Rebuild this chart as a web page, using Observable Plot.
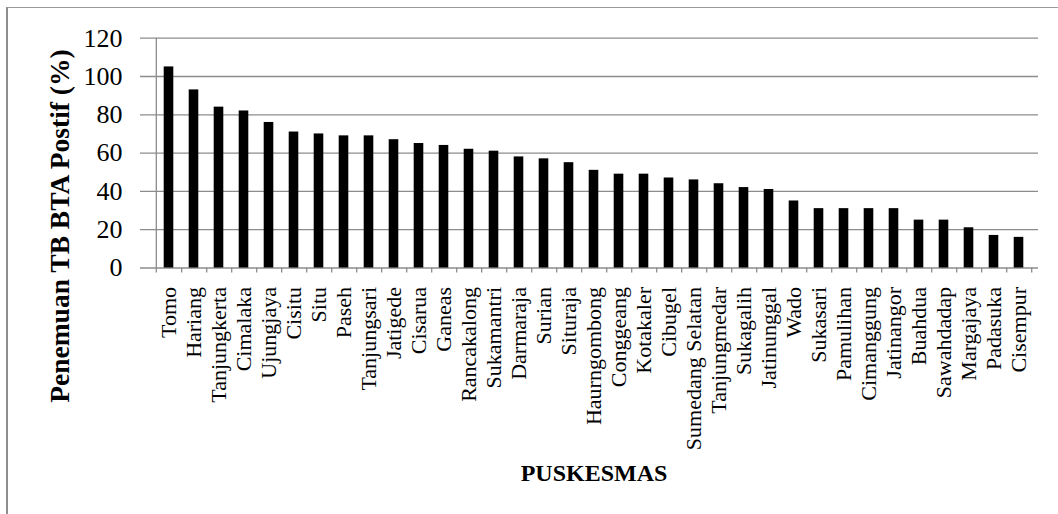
<!DOCTYPE html>
<html>
<head>
<meta charset="utf-8">
<script src="https://cdn.jsdelivr.net/npm/d3@7"></script>
<script src="https://cdn.jsdelivr.net/npm/@observablehq/plot@0.6"></script>
<style>
  html, body { margin: 0; padding: 0; background: #fff; overflow: hidden; }
  #wrap { position: relative; width: 1058px; height: 514px; }
  #border { position: absolute; left: 6px; top: 7px; width: 1200px; height: 700px;
            border-left: 2px solid #8e8e8e; border-top: 1.5px solid #9a9a9a; }
  #chart { position: absolute; left: 0; top: 0; }
</style>
</head>
<body>
<div id="wrap"><div id="border"></div><div id="chart"></div></div>
<script>
const categories = ["Tomo","Hariang","Tanjungkerta","Cimalaka","Ujungjaya","Cisitu","Situ","Paseh","Tanjungsari","Jatigede","Cisarua","Ganeas","Rancakalong","Sukamantri","Darmaraja","Surian","Situraja","Haurngombong","Conggeang","Kotakaler","Cibugel","Sumedang Selatan","Tanjungmedar","Sukagalih","Jatinunggal","Wado","Sukasari","Pamulihan","Cimanggung","Jatinangor","Buahdua","Sawahdadap","Margajaya","Padasuka","Cisempur"];
const values = [105,93,84,82,76,71,70,69,69,67,65,64,62,61,58,57,55,51,49,49,47,46,44,42,41,35,31,31,31,31,25,25,21,17,16];
const yTicks = [0,20,40,60,80,100,120];
const yTitle = "Penemuan TB BTA Postif (%)";
const xTitle = "PUSKESMAS";

const data = categories.map((c, i) => ({name: c, value: values[i]}));

const W = 1058, H = 514;
const mL = 149, mR = 20, mT = 37.7, mB = H - 267.5;
const bw = (W - mL - mR) / categories.length;
const barW = 10;
const plotH = H - mT - mB;
const font = "'Liberation Serif', 'Times New Roman', serif";
const grid = "#8c8c8c";

const chart = Plot.plot({
  width: W, height: H,
  marginLeft: mL, marginRight: mR, marginTop: mT, marginBottom: mB,
  style: {fontFamily: font, background: "transparent", color: "black"},
  x: {domain: categories, padding: 0, label: null},
  y: {domain: [0, 120], label: null},
  marks: [
    Plot.ruleY(yTicks, {stroke: grid, strokeWidth: 1.3, insetLeft: -9}),
    // vertical axis line (left boundary of first category) incl. tick below
    Plot.ruleX([categories[0]], {dx: -bw/2, stroke: grid, strokeWidth: 1.3, insetBottom: -5}),
    // category boundary ticks below the x axis
    Plot.ruleX(categories, {dx: bw/2, stroke: grid, strokeWidth: 1.3, insetTop: plotH, insetBottom: -5}),
    Plot.barY(data, {x: "name", y: "value", fill: "black", insetLeft: (bw - barW)/2, insetRight: (bw - barW)/2}),
    Plot.axisY(yTicks, {tickSize: 0, tickPadding: 27, fontSize: 26, label: null}),
    Plot.axisX({tickSize: 0, tickPadding: 19, tickRotate: -90, fontSize: 22, label: null}),
    Plot.text([yTitle], {frameAnchor: "left", textAnchor: "middle", rotate: -90, dx: -89.5, dy: 73, fontSize: 27.5, fontWeight: "bold"}),
    Plot.text([xTitle], {frameAnchor: "bottom", dy: 205, fontSize: 24, fontWeight: "bold", lineAnchor: "middle"})
  ]
});
document.getElementById("chart").appendChild(chart);
</script>
</body>
</html>
